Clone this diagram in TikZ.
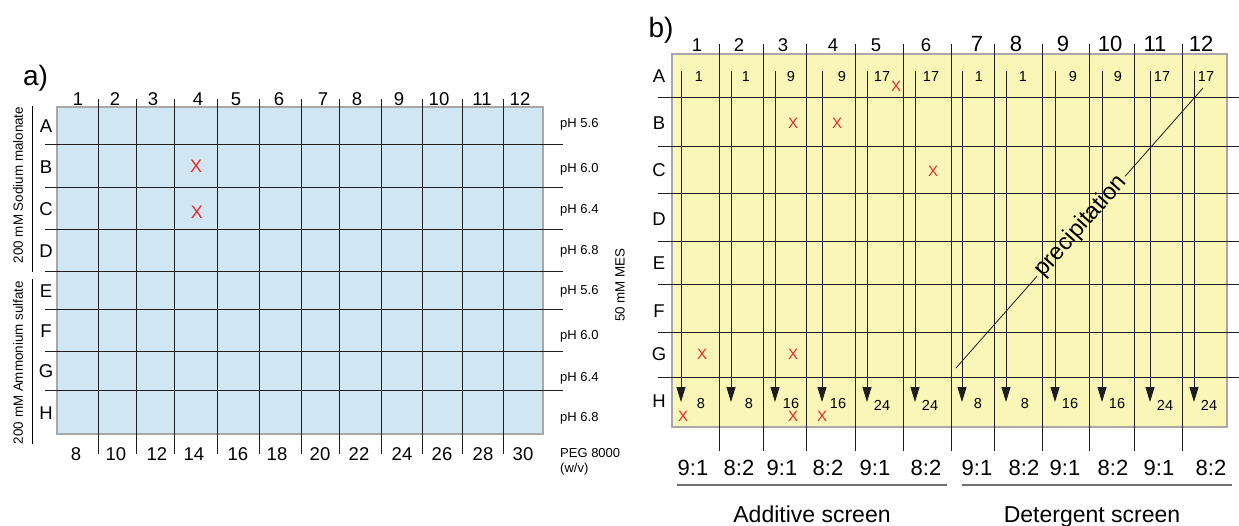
\documentclass[tikz,border=0pt]{standalone}
\usepackage{fontspec}
\setmainfont{Liberation Sans}
\usetikzlibrary{arrows.meta}
\definecolor{plateblue}{HTML}{D0E6F3}
\definecolor{plateyellow}{HTML}{FAF6B8}
\definecolor{xred}{HTML}{E8282C}
\definecolor{rimgray}{HTML}{A8A8A8}
\definecolor{gridc}{HTML}{1E1E1E}
\definecolor{ulgray}{HTML}{707070}
\newcommand{\fsz}[1]{\fontsize{#1}{#1}\selectfont}
\begin{document}
\begin{tikzpicture}[x=1pt,y=-1pt,
  gridline/.style={draw=gridc,line width=0.9pt},
  rim/.style={draw=rimgray,line width=1.2pt},
  panellbl/.style={inner sep=0pt,font=\fsz{28}},
  collbl/.style={inner sep=0pt,font=\fsz{18.5},anchor=base},
  collblbig/.style={inner sep=0pt,font=\fsz{22},anchor=base},
  rowlbl/.style={inner sep=0pt,font=\fsz{18.5}},
  phlbl/.style={inner sep=0pt,font=\fsz{13},anchor=base west},
  sidelbl/.style={inner sep=0pt,font=\fsz{13.4},rotate=90},
  xa/.style={inner sep=0pt,font=\fsz{18},text=xred},
  xb/.style={inner sep=0pt,font=\fsz{15},text=xred},
  smallnum/.style={inner sep=0pt,font=\fsz{14.5}},
  ratio/.style={inner sep=0pt,font=\fsz{22},anchor=base},
  screenlbl/.style={inner sep=0pt,font=\fsz{23},anchor=base},
  arr/.style={draw=gridc,line width=0.9pt,-{Triangle[width=9pt,length=15pt]}},
  ul/.style={draw=ulgray,line width=1.4pt},
  bracket/.style={draw=black,line width=1pt},
  prec/.style={inner sep=0pt,font=\fsz{23.5}}
]
\useasboundingbox (0,0) rectangle (1239,525);

% ================= panel a =================
\node[panellbl] (alabel) at (35.5,78.5) {a)};
\fill[plateblue] (57,107) rectangle (543,434);
\draw[rim] (57,107) rectangle (543,434);
\foreach \x in {98,136,174,217,259,301,339,381,422,462,503}
  \draw[gridline] (\x,99) -- (\x,454);
\foreach \y in {144,187,229,271,309,351,390}
  \draw[gridline] (45,\y) -- (563,\y);

\foreach \x/\lab in {78/1,115/2,153/3,198/4,236/5,279/6,323/7,357/8,399/9,439/10,482/11,520/12}
  \node[collbl] (atop\lab) at (\x,105) {\lab};
\foreach \x/\lab in {76/8,116/10,157/12,194/14,238/16,277/18,320/20,359/22,402/24,442/26,483/28,523/30}
  \node[rowlbl] (abot\lab) at (\x,454) {\lab};
\foreach \y/\lab in {126/A,167/B,209/C,251/D,291/E,331/F,371.5/G,413/H}
  \node[rowlbl] (arow\lab) at (46,\y) {\lab};
\foreach \y/\lab [count=\i] in {127.5/5.6,172.5/6.0,213.5/6.4,254.5/6.8,294.5/5.6,339.5/6.0,381.5/6.4,421.5/6.8}
  \node[phlbl] (aph\i) at (560,\y) {pH \lab};

\draw[bracket] (32,106) -- (32,272);
\draw[bracket] (32,279) -- (32,444);
\node[sidelbl] (sodium) at (18,185) {200 mM Sodium malonate};
\node[sidelbl] (ammon) at (18,362.5) {200 mM Ammonium sulfate};
\node[sidelbl] (mes) at (620,285) {50 mM MES};
\node[phlbl] (peg) at (560,457) {PEG 8000};
\node[phlbl] (wv) at (560,472) {(w/v)};

\node[xa] (axB4) at (196,166) {X};
\node[xa] (axC4) at (197,212) {X};

% ================= panel b =================
\node[panellbl] (blabel) at (661,30) {b)};
\fill[plateyellow] (672,54) rectangle (1227,427);
\draw[rim] (672,54) rectangle (1227,427);
\foreach \x in {719,763,806,855,903,951,994,1042,1089,1134,1182}
  \draw[gridline] (\x,44) -- (\x,451);
\foreach \y in {97,146,193,241,284,332,377}
  \draw[gridline] (658,\y) -- (1239,\y);

\foreach \x [count=\i] in {681,731,775,822,867,915,962,1006,1055,1102,1150,1194} {
  \coordinate (as\i) at (\x,71);
  \coordinate (ae\i) at (\x,402);
  \draw[arr] (as\i) -- (ae\i);
}

\foreach \x/\lab in {697/1,739/2,783/3,833/4,876/5,926/6}
  \node[collbl] (btop\lab) at (\x,51.5) {\lab};
\foreach \x/\lab in {977/7,1016/8,1063/9,1110/10,1155/11,1201/12}
  \node[collblbig] (btop\lab) at (\x,51.5) {\lab};
\foreach \y/\lab in {76/A,123/B,170/C,219/D,263/E,311/F,354/G,401/H}
  \node[rowlbl] (brow\lab) at (659,\y) {\lab};

\foreach \x/\lab [count=\i] in {699/1,746/1,791/9,842/9,882/17,931/17,979/1,1023/1,1073/9,1118/9,1162/17,1206/17}
  \node[smallnum] (bA\i) at (\x,76.5) {\lab};
\foreach \x/\y/\lab [count=\i] in {701/404/8,749/404/8,791/404/16,838/404/16,882/405/24,930/405/24,978/404/8,1025/404/8,1070/404/16,1117/404/16,1165/405/24,1209/405/24}
  \node[smallnum] (bH\i) at (\x,\y) {\lab};

\foreach \x/\y [count=\i] in {896/86,793/123,837/123,933/171,702/354,793/354,683/416,793/416,822/416}
  \node[xb] (bx\i) at (\x,\y) {X};

\foreach \x/\lab [count=\i] in {693/9:1,739/8:2,782/9:1,828/8:2,875/9:1,926/8:2,977/9:1,1024/8:2,1065/9:1,1113/8:2,1159/9:1,1211/8:2}
  \node[ratio] (brat\i) at (\x,475) {\lab};

\coordinate (ulA1) at (677,485);
\coordinate (ulA2) at (947,485);
\coordinate (ulD1) at (962,485);
\coordinate (ulD2) at (1232,485);
\draw[ul] (ulA1) -- (ulA2);
\draw[ul] (ulD1) -- (ulD2);
\node[screenlbl] (addl) at (812,522) {Additive screen};
\node[screenlbl] (detl) at (1092,522) {Detergent screen};

\coordinate (pA) at (956,368);
\coordinate (pB) at (1037,276.2);
\coordinate (pC) at (1125,176.4);
\coordinate (pD) at (1203,88);
\draw[draw=gridc,line width=0.8pt] (pA) -- (pB);
\draw[draw=gridc,line width=0.8pt] (pC) -- (pD);
\node[prec,rotate=48.6] (precip) at (1081,226.3) {precipitation};
\end{tikzpicture}
\end{document}
